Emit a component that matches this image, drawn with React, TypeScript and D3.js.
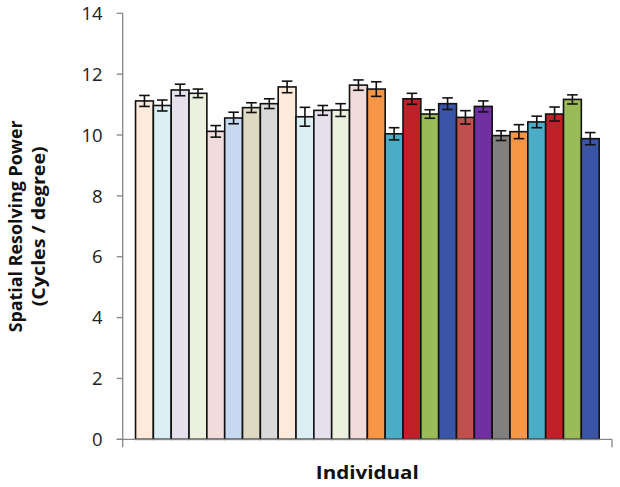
import React from "react";
import * as d3 from "d3";

const individuals = [
  "1","2","3","4","5","6","7","8","9","10","11","12","13",
  "14","15","16","17","18","19","20","21","22","23","24","25","26",
];
const means = [
  11.12, 10.97, 11.48, 11.37, 10.12, 10.56, 10.9, 11.03, 11.58, 10.6, 10.81, 10.82, 11.64,
  11.51, 10.04, 11.19, 10.69, 11.03, 10.58, 10.94, 9.98, 10.11, 10.43, 10.69, 11.17, 9.88,
];
const errors = [
  0.18, 0.18, 0.19, 0.14, 0.19, 0.19, 0.16, 0.16, 0.19, 0.31, 0.16, 0.21, 0.17,
  0.24, 0.2, 0.18, 0.14, 0.19, 0.22, 0.18, 0.16, 0.23, 0.19, 0.23, 0.15, 0.2,
];
const colors = [
  "#FDEADA", "#DBEEF4", "#E5E0EC", "#EBF1DE", "#F2DCDB", "#C6D9F1", "#DDD9C3", "#D9D9D9",
  "#FDEADA", "#DBEEF4", "#E5E0EC", "#EBF1DE", "#F2DCDB",
  "#F79646", "#4BACC6", "#C0202A", "#9BBB59", "#3B55A6", "#C0504D", "#7030A0", "#808080",
  "#F79646", "#4BACC6", "#C0202A", "#9BBB59", "#3B55A6",
];
const yTicks = [0, 2, 4, 6, 8, 10, 12, 14];
const xTitle = "Individual";
const yTitle1 = "Spatial Resolving Power";
const yTitle2 = "(Cycles / degree)";

export default function App() {
  const W = 620, H = 487;
  const x0 = 122.7, x1 = 612, yTop = 13.3, yBot = 439.3;
  const y = d3.scaleLinear().domain([0, 14]).range([yBot, yTop]);
  const x = d3.scaleBand<string>().domain(individuals).range([x0, x1]).paddingInner(0).paddingOuter(0.72);
  const font = "'Open Sans', sans-serif";
  const axisColor = "#868686";
  const cx = (x0 + x1) / 2;
  const cy = (yTop + yBot) / 2;
  return (
    <svg width={W} height={H} style={{ position: "absolute", left: 0, top: 0, background: "#fff" }}>
      {individuals.map((id, i) => (
        <rect key={id} x={x(id)!} y={y(means[i])} width={x.bandwidth()} height={y(0) - y(means[i])}
          fill={colors[i]} stroke="#111" strokeWidth={1.6} />
      ))}
      <line x1={x0} x2={x0} y1={yTop} y2={yBot + 8} stroke={axisColor} strokeWidth={1.3} />
      {yTicks.map(t => (
        <g key={t}>
          <line x1={x0 - 6} x2={x0} y1={y(t)} y2={y(t)} stroke={axisColor} strokeWidth={1.3} />
          <text x={x0 - 20} y={y(t)} dy="0.36em" textAnchor="end" fontFamily={font} fontSize={18.5} fill="#222">{t}</text>
        </g>
      ))}
      <line x1={x0 - 6} x2={x1} y1={yBot} y2={yBot} stroke={axisColor} strokeWidth={1.3} />
      <line x1={x1} x2={x1} y1={yBot} y2={yBot + 8} stroke={axisColor} strokeWidth={1.3} />
      {individuals.map((id, i) => {
        const c = x(id)! + x.bandwidth() / 2;
        const hi = y(means[i] + errors[i]);
        const lo = y(means[i] - errors[i]);
        return (
          <g key={"e" + id} stroke="#111" strokeWidth={1.6}>
            <line x1={c} x2={c} y1={hi} y2={lo} />
            <line x1={c - 5.3} x2={c + 5.3} y1={hi} y2={hi} />
            <line x1={c - 5.3} x2={c + 5.3} y1={lo} y2={lo} />
          </g>
        );
      })}
      <text x={cx} y={479} textAnchor="middle" fontFamily={font} fontWeight="bold" fontSize={18.5} fill="#111"
        textLength={103} lengthAdjust="spacingAndGlyphs">{xTitle}</text>
      <g transform={`translate(22,${cy}) rotate(-90)`}>
        <text x={0} y={0} textAnchor="middle" fontFamily={font} fontWeight="bold" fontSize={18.5} fill="#111"
          textLength={212} lengthAdjust="spacingAndGlyphs">{yTitle1}</text>
        <text x={0} y={23} textAnchor="middle" fontFamily={font} fontWeight="bold" fontSize={18.5} fill="#111"
          textLength={160} lengthAdjust="spacingAndGlyphs">{yTitle2}</text>
      </g>
    </svg>
  );
}
